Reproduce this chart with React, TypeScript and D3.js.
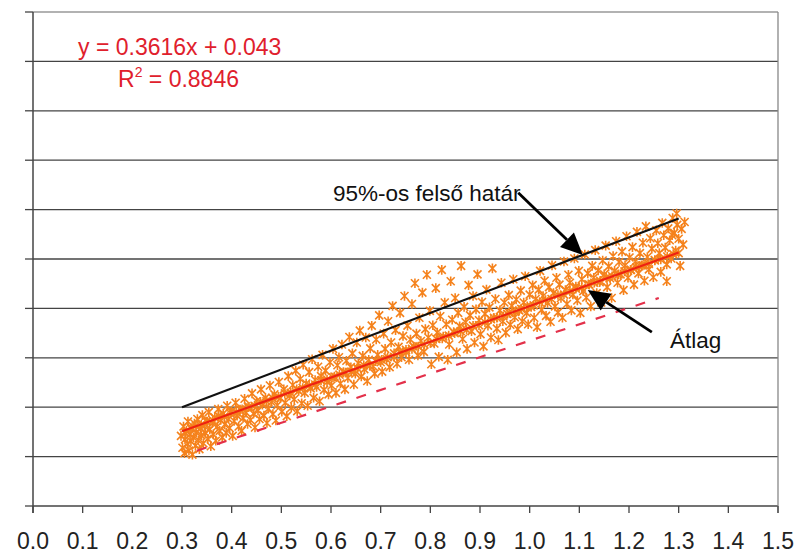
import React from "react";
import { scaleLinear, line, range } from "d3";

// x tick labels
const xTicks = range(0, 16).map((i) => i / 10);
const yGrid = range(0, 11).map((i) => i / 10);

// regression shown on chart
const slope = 0.3616;
const intercept = 0.043;
const rSquared = 0.8846;

// 95% upper bound (black) and lower bound (dashed red)
const upperBound: [number, number][] = [[0.3, 0.2], [1.3, 0.582]];
const lowerBound: [number, number][] = [[0.33, 0.112], [1.26, 0.421]];

// measured points, left part of the cloud
const cloudLeft: [number, number][] = [
  [0.298,0.142],[0.301,0.118],[0.303,0.161],[0.305,0.107],[0.306,0.135],[0.309,0.152],[0.311,0.126],[0.312,0.171],[0.314,0.112],[0.316,0.145],
  [0.318,0.131],[0.320,0.158],[0.321,0.104],[0.323,0.139],[0.325,0.167],[0.327,0.122],[0.329,0.149],[0.331,0.176],[0.333,0.133],[0.335,0.115],
  [0.337,0.157],[0.339,0.143],[0.341,0.184],[0.343,0.127],[0.345,0.162],[0.347,0.148],[0.349,0.171],[0.352,0.136],[0.354,0.19],[0.356,0.155],
  [0.358,0.121],[0.361,0.168],[0.363,0.145],[0.366,0.179],[0.368,0.132],[0.371,0.161],[0.373,0.196],[0.376,0.152],[0.378,0.174],[0.381,0.139],
  [0.383,0.187],[0.386,0.165],[0.389,0.148],[0.391,0.203],[0.394,0.176],[0.396,0.158],[0.399,0.191],[0.402,0.142],[0.405,0.172],[0.408,0.209],
  [0.411,0.183],[0.414,0.161],[0.417,0.195],[0.42,0.152],[0.423,0.178],[0.426,0.217],[0.429,0.189],[0.432,0.166],[0.435,0.201],[0.438,0.174],
  [0.441,0.228],[0.444,0.187],[0.447,0.159],[0.45,0.212],[0.453,0.193],[0.456,0.176],[0.459,0.236],[0.462,0.205],[0.465,0.183],[0.468,0.219],
  [0.471,0.168],[0.474,0.197],[0.477,0.244],[0.48,0.211],[0.483,0.186],[0.486,0.226],[0.489,0.173],[0.492,0.204],[0.495,0.251],[0.498,0.218],
  [0.501,0.191],[0.505,0.236],[0.508,0.209],[0.511,0.182],[0.514,0.263],[0.517,0.224],[0.52,0.199],[0.523,0.245],[0.526,0.216],[0.529,0.274],
  [0.532,0.192],[0.535,0.233],[0.538,0.257],[0.541,0.208],[0.544,0.286],[0.547,0.229],[0.55,0.248],[0.553,0.203],[0.556,0.271],[0.559,0.238],
  [0.562,0.297],[0.565,0.219],[0.568,0.255],[0.571,0.241],[0.574,0.282],[0.577,0.212],[0.58,0.263],[0.583,0.306],[0.586,0.235],[0.589,0.274],
  [0.592,0.251],[0.595,0.226],[0.598,0.291],
];

// middle part
const cloudMid: [number, number][] = [
  [0.601,0.244],[0.604,0.318],[0.607,0.262],[0.61,0.229],[0.613,0.285],[0.616,0.301],[0.619,0.248],[0.622,0.327],[0.625,0.271],[0.628,0.236],
  [0.631,0.294],[0.634,0.259],[0.637,0.342],[0.64,0.281],[0.643,0.309],[0.646,0.246],[0.649,0.268],[0.652,0.331],[0.655,0.289],[0.658,0.355],
  [0.661,0.262],[0.664,0.304],[0.667,0.277],[0.67,0.341],[0.673,0.253],[0.676,0.296],[0.679,0.319],[0.682,0.365],[0.685,0.283],[0.688,0.268],
  [0.691,0.337],[0.694,0.306],[0.697,0.386],[0.7,0.291],[0.703,0.272],[0.706,0.349],[0.709,0.318],[0.712,0.297],[0.715,0.374],[0.718,0.281],
  [0.721,0.331],[0.724,0.405],[0.727,0.309],[0.73,0.356],[0.733,0.288],[0.736,0.322],[0.739,0.391],[0.742,0.301],[0.745,0.344],[0.748,0.425],
  [0.751,0.316],[0.754,0.365],[0.757,0.296],[0.76,0.337],[0.763,0.409],[0.766,0.323],[0.769,0.451],[0.772,0.349],[0.775,0.305],[0.778,0.381],
  [0.781,0.334],[0.784,0.432],[0.787,0.312],[0.79,0.358],[0.793,0.468],[0.796,0.341],[0.799,0.395],[0.802,0.287],[0.805,0.366],[0.808,0.329],
  [0.811,0.441],[0.814,0.351],[0.817,0.302],[0.82,0.384],[0.823,0.478],[0.826,0.343],[0.829,0.412],[0.832,0.368],[0.835,0.296],[0.838,0.327],
  [0.841,0.455],[0.844,0.377],[0.847,0.352],[0.85,0.421],[0.853,0.311],[0.856,0.391],[0.859,0.364],[0.862,0.486],[0.865,0.338],[0.868,0.403],
  [0.871,0.372],[0.874,0.318],[0.877,0.447],[0.88,0.386],[0.883,0.354],[0.886,0.425],[0.889,0.331],[0.892,0.398],[0.895,0.469],[0.898,0.376],
  [0.901,0.348],[0.904,0.413],[0.907,0.323],[0.91,0.389],[0.913,0.438],[0.916,0.365],[0.919,0.402],[0.922,0.341],[0.925,0.481],[0.928,0.381],
  [0.931,0.419],[0.934,0.359],[0.937,0.336],[0.94,0.396],[0.943,0.452],[0.946,0.374],[0.949,0.412],
];

// right part
const cloudRight: [number, number][] = [
  [0.952,0.351],[0.955,0.389],[0.958,0.427],[0.961,0.367],[0.964,0.405],[0.967,0.459],[0.97,0.382],[0.973,0.418],[0.976,0.358],[0.979,0.396],
  [0.982,0.436],[0.985,0.374],[0.988,0.412],[0.991,0.465],[0.994,0.391],[0.997,0.368],[1.0,0.428],[1.003,0.403],[1.006,0.447],[1.009,0.381],
  [1.012,0.419],[1.015,0.362],[1.018,0.438],[1.021,0.476],[1.024,0.397],[1.027,0.425],[1.03,0.456],[1.033,0.385],[1.036,0.411],[1.039,0.443],
  [1.042,0.373],[1.045,0.487],[1.048,0.431],[1.051,0.404],[1.054,0.462],[1.057,0.392],[1.06,0.448],[1.063,0.421],[1.066,0.381],[1.069,0.495],
  [1.072,0.437],[1.075,0.409],[1.078,0.468],[1.081,0.452],[1.084,0.396],[1.087,0.428],[1.09,0.501],[1.093,0.444],[1.096,0.416],[1.099,0.476],
  [1.102,0.391],[1.105,0.459],[1.108,0.435],[1.111,0.509],[1.114,0.422],[1.117,0.471],[1.12,0.448],[1.123,0.404],[1.126,0.486],[1.129,0.462],
  [1.132,0.518],[1.135,0.431],[1.138,0.477],[1.141,0.453],[1.144,0.412],[1.147,0.497],[1.15,0.469],[1.153,0.527],[1.156,0.443],[1.159,0.485],
  [1.162,0.461],[1.165,0.421],[1.168,0.506],[1.171,0.476],[1.174,0.536],[1.177,0.452],[1.18,0.494],[1.183,0.469],[1.186,0.515],[1.189,0.437],
  [1.192,0.487],[1.195,0.546],[1.198,0.462],[1.201,0.503],[1.204,0.478],[1.207,0.524],[1.21,0.448],[1.213,0.495],[1.216,0.555],[1.219,0.471],
  [1.222,0.512],[1.225,0.487],[1.228,0.533],[1.231,0.456],[1.234,0.566],[1.237,0.504],[1.24,0.479],[1.243,0.542],[1.246,0.521],[1.249,0.463],
  [1.252,0.497],[1.255,0.558],[1.258,0.532],[1.261,0.512],[1.264,0.474],[1.267,0.573],[1.27,0.548],[1.273,0.523],[1.276,0.489],[1.279,0.562],
  [1.282,0.538],[1.285,0.501],[1.288,0.583],[1.291,0.553],[1.294,0.517],[1.297,0.569],[1.3,0.541],[1.303,0.486],[1.306,0.561],[1.309,0.529],
  [1.312,0.575],[1.296,0.592],[1.287,0.548],[1.276,0.455],
];

// dense core of points hugging the mean line
const cloudCore: [number, number][] = [
  [0.307,0.148],[0.318,0.157],[0.328,0.162],[0.339,0.165],[0.351,0.171],[0.362,0.173],[0.374,0.182],[0.385,0.181],[0.397,0.188],[0.409,0.19],
  [0.421,0.196],[0.433,0.2],[0.446,0.203],[0.458,0.211],[0.47,0.212],[0.482,0.219],[0.494,0.221],[0.507,0.228],[0.519,0.229],[0.531,0.236],
  [0.543,0.239],[0.556,0.244],[0.568,0.246],[0.58,0.254],[0.592,0.256],[0.604,0.26],[0.617,0.266],[0.629,0.27],[0.641,0.272],[0.653,0.279],
  [0.666,0.285],[0.678,0.284],[0.69,0.293],[0.702,0.296],[0.714,0.301],[0.727,0.302],[0.739,0.311],[0.751,0.312],[0.763,0.318],[0.776,0.323],
  [0.788,0.327],[0.8,0.33],[0.812,0.338],[0.824,0.339],[0.837,0.345],[0.849,0.35],[0.861,0.354],[0.873,0.357],[0.886,0.365],[0.898,0.366],
  [0.91,0.372],[0.922,0.378],[0.934,0.381],[0.947,0.384],[0.959,0.391],[0.971,0.393],[0.983,0.399],[0.995,0.404],[1.008,0.406],[1.02,0.413],
  [1.032,0.417],[1.044,0.419],[1.057,0.427],[1.069,0.428],[1.081,0.435],[1.093,0.44],[1.105,0.442],[1.118,0.449],[1.13,0.452],[1.142,0.456],
  [1.154,0.462],[1.166,0.465],[1.179,0.469],[1.191,0.475],[1.203,0.478],[1.215,0.483],[1.228,0.487],[1.24,0.49],[1.252,0.498],[1.264,0.499],
  [1.277,0.505],[1.289,0.51],[1.3,0.512],
];

// annotations: [from, tip] in data units
const upperArrow: [number, number][] = [[0.977, 0.634], [1.107, 0.508]];
const meanArrow: [number, number][] = [[1.246, 0.352], [1.117, 0.437]];

const W = 797;
const H = 554;
const font = "'Liberation Sans', Arial, sans-serif";

const x = scaleLinear().domain([0, 1.5]).range([33, 778]);
const y = scaleLinear().domain([0, 1]).range([506, 12]);

const pathGen = line<[number, number]>()
  .x((d) => x(d[0]))
  .y((d) => y(d[1]));

const star = "M-4,-4L4,4M-4,4L4,-4M0,-4.8L0,4.8";

const Arrow = ({ pts }: { pts: [number, number][] }) => {
  const x0 = x(pts[0][0]);
  const y0 = y(pts[0][1]);
  const x1 = x(pts[1][0]);
  const y1 = y(pts[1][1]);
  const a = Math.atan2(y1 - y0, x1 - x0);
  const len = 22;
  const hw = 10;
  const bx = x1 - len * Math.cos(a);
  const by = y1 - len * Math.sin(a);
  const head = [
    [x1, y1],
    [bx + hw * Math.sin(a), by - hw * Math.cos(a)],
    [bx - hw * Math.sin(a), by + hw * Math.cos(a)],
  ]
    .map((p) => p.join(","))
    .join(" ");
  return (
    <g>
      <line x1={x0} y1={y0} x2={bx} y2={by} stroke="#000" strokeWidth={2.8} />
      <polygon points={head} fill="#000" />
    </g>
  );
};

const App = () => {
  const points = [...cloudLeft, ...cloudCore, ...cloudMid, ...cloudRight];
  const meanLine: [number, number][] = [
    [0.3, slope * 0.3 + intercept],
    [1.3, slope * 1.3 + intercept],
  ];
  return (
    <svg
      width={W}
      height={H}
      style={{ position: "absolute", left: 0, top: 0, background: "#fff" }}
      fontFamily={font}
    >
      {/* grid */}
      {yGrid.map((v) => (
        <g key={v}>
          <line x1={x(0)} x2={x(1.5)} y1={y(v)} y2={y(v)}
            stroke={v === 1 ? "#999" : "#444"} strokeWidth={1.3} />
          <line x1={x(0) - 8} x2={x(0)} y1={y(v)} y2={y(v)} stroke="#444" strokeWidth={1.3} />
        </g>
      ))}
      <line x1={x(1.5)} x2={x(1.5)} y1={y(1)} y2={y(0) + 7} stroke="#888" strokeWidth={1.3} />
      <line x1={x(0)} x2={x(0)} y1={y(1)} y2={y(0) + 7} stroke="#444" strokeWidth={1.5} />

      {/* x axis ticks + labels */}
      {xTicks.map((t) => (
        <g key={t}>
          <line x1={x(t)} x2={x(t)} y1={y(0)} y2={y(0) + 7} stroke="#444" strokeWidth={1.3} />
          <text x={x(t)} y={549} textAnchor="middle" fontSize={23} fill="#222">
            {t.toFixed(1)}
          </text>
        </g>
      ))}

      {/* scatter */}
      {points.map((p, i) => (
        <path key={i} d={star} transform={`translate(${x(p[0])},${y(p[1])})`}
          stroke="#f5821c" strokeWidth={1.6} fill="none" />
      ))}

      {/* lines */}
      <path d={pathGen(upperBound) || ""} stroke="#111" strokeWidth={2.2} fill="none" />
      <path d={pathGen(meanLine) || ""} stroke="#ee2211" strokeWidth={2.2} fill="none" />
      <path d={pathGen(lowerBound) || ""} stroke="#e3304a" strokeWidth={2.2}
        strokeDasharray="10,11" fill="none" />

      {/* annotations */}
      <Arrow pts={upperArrow} />
      <Arrow pts={meanArrow} />
      <text x={333} y={201} fontSize={22.5} fill="#111">95%-os felső határ</text>
      <text x={670} y={348} fontSize={22.5} fill="#111">Átlag</text>

      {/* regression text */}
      <text x={78} y={55} fontSize={23} fill="#e0202c">
        {`y = ${slope}x + ${intercept}`}
      </text>
      <text x={118} y={87} fontSize={23} fill="#e0202c">
        R<tspan dy={-10} fontSize={14}>2</tspan>
        <tspan dy={10}>{` = ${rSquared}`}</tspan>
      </text>
    </svg>
  );
};

export default App;
